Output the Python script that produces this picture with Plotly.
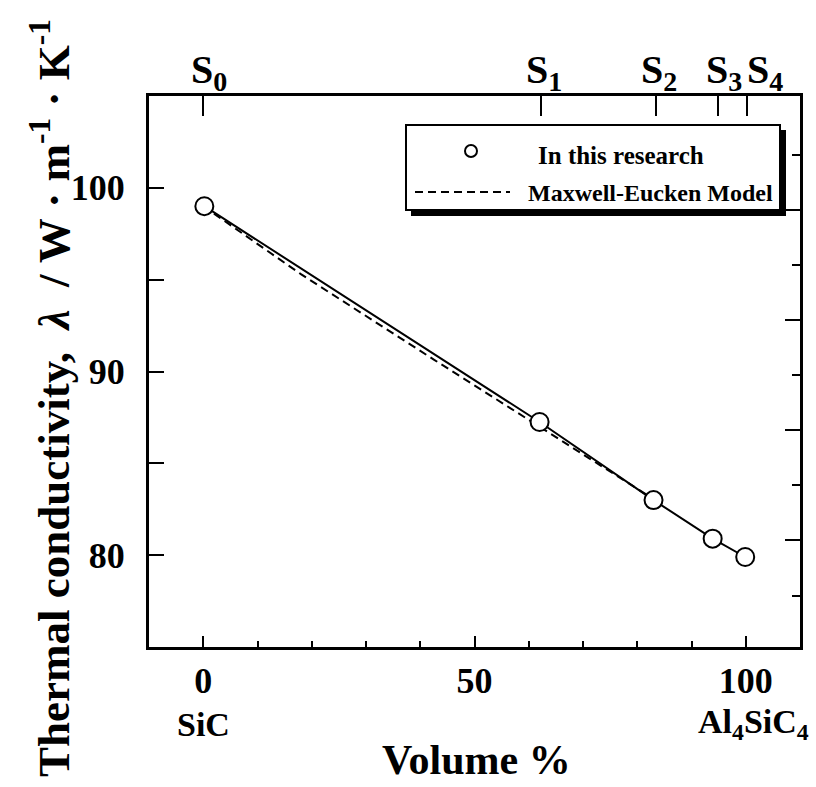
import plotly.graph_objects as go

# Measured thermal conductivity vs Al4SiC4 volume fraction
vol_pct = [0.2, 62.0, 83.0, 93.9, 99.9]
conductivity = [99.0, 87.25, 83.0, 80.9, 79.9]

# Maxwell-Eucken model curve
me_vol = [0.0, 18.0, 42.5, 60.0, 83.0]
me_cond = [99.0, 95.3, 90.65, 87.35, 83.05]

# Sample positions on the top axis
sample_pos = [0.0, 62.3, 83.5, 94.8, 100.2]
sample_names = ["S<sub>0</sub>", "S<sub>1</sub>", "S<sub>2</sub>", "S<sub>3</sub>", "S<sub>4</sub>"]

# Bottom axis labels
x_ticks = [0, 50, 100]
x_ticktext = ["0", "50", "100"]
end_members = ["SiC", "Al<sub>4</sub>SiC<sub>4</sub>"]
end_member_pos = [0, 100]

# Left axis labels
y_ticks = [80, 90, 100]
y_ticktext = ["80", "90", "100"]
y_minor = [85, 95]

# Right-hand tick marks
right_major = [80.8, 86.8, 92.8, 98.8]
right_minor = [77.8, 83.8, 89.8, 95.8, 101.8]

X_RANGE = [-10, 110]
Y_RANGE = [75, 105]

W, H = 816, 787
ML, MR, MT, MB = 149, 16, 96, 140
PW, PH = W - ML - MR, H - MT - MB

FONT = "Liberation Serif"


def px(xpix):
    return (xpix - ML) / PW


def py(ypix):
    return (H - MB - ypix) / PH


fig = go.Figure()

fig.add_trace(go.Scatter(
    x=me_vol, y=me_cond, mode="lines",
    line=dict(color="black", width=2, dash="8px,5px"),
    showlegend=False, hoverinfo="skip",
))

fig.add_trace(go.Scatter(
    x=vol_pct, y=conductivity, mode="lines+markers",
    line=dict(color="black", width=2),
    marker=dict(symbol="circle", size=18, color="white",
                line=dict(color="black", width=2)),
    showlegend=False,
))

# invisible trace to carry the top and right axes
fig.add_trace(go.Scatter(x=[None], y=[None], xaxis="x2", yaxis="y2",
                         showlegend=False, hoverinfo="skip"))

axis_font = dict(family=FONT, size=36, color="black", weight="bold")

fig.update_layout(
    width=W, height=H,
    margin=dict(l=ML, r=MR, t=MT, b=MB, pad=0),
    paper_bgcolor="white", plot_bgcolor="white",
    showlegend=False,
    xaxis=dict(
        range=X_RANGE, showgrid=False, zeroline=False,
        showline=True, linecolor="black", linewidth=3,
        tickmode="array", tickvals=x_ticks, ticktext=x_ticktext,
        ticks="inside", ticklen=11, tickwidth=2, tickcolor="black",
        tickfont=axis_font, ticklabelstandoff=0,
        minor=dict(dtick=10, tick0=0, ticks="inside", ticklen=6,
                   tickwidth=2, tickcolor="black", showgrid=False),
    ),
    xaxis2=dict(
        range=X_RANGE, overlaying="x", side="top", anchor="y",
        showgrid=False, zeroline=False,
        showline=True, linecolor="black", linewidth=3,
        tickmode="array", tickvals=sample_pos, showticklabels=False,
        ticks="inside", ticklen=20, tickwidth=2, tickcolor="black",
    ),
    yaxis=dict(
        range=Y_RANGE, showgrid=False, zeroline=False,
        showline=True, linecolor="black", linewidth=3,
        tickmode="array", tickvals=y_ticks, ticktext=y_ticktext,
        ticks="inside", ticklen=15, tickwidth=2, tickcolor="black",
        tickfont=axis_font, ticklabelstandoff=14,
        minor=dict(tickmode="array", tickvals=y_minor, ticks="inside",
                   ticklen=15, tickwidth=2, tickcolor="black", showgrid=False),
    ),
    yaxis2=dict(
        range=Y_RANGE, overlaying="y", side="right", anchor="x",
        showgrid=False, zeroline=False,
        showline=True, linecolor="black", linewidth=3,
        tickmode="array", tickvals=right_major, showticklabels=False,
        ticks="inside", ticklen=15, tickwidth=2, tickcolor="black",
        minor=dict(tickmode="array", tickvals=right_minor, ticks="inside",
                   ticklen=8, tickwidth=2, tickcolor="black", showgrid=False),
    ),
)

annotations = []

# sample labels along the top
label_nudge = [6, 3, 3, 6, 18]
for pos, name, dx in zip(sample_pos, sample_names, label_nudge):
    annotations.append(dict(
        x=pos, xref="x", y=py(72), yref="paper", text=name, showarrow=False,
        xanchor="center", yanchor="middle", xshift=dx,
        font=dict(family=FONT, size=40, color="black", weight="bold"),
    ))

# end-member names under the bottom tick labels
for pos, name in zip(end_member_pos, end_members):
    annotations.append(dict(
        x=pos, xref="x", y=py(724), yref="paper", text=name, showarrow=False,
        xanchor="center", yanchor="middle", xshift=(0 if pos == 0 else 8),
        font=dict(family=FONT, size=34, color="black", weight="bold"),
    ))

# axis titles
annotations.append(dict(
    x=px(476), y=py(760), xref="paper", yref="paper", text="Volume %",
    showarrow=False, xanchor="center", yanchor="middle",
    font=dict(family=FONT, size=42, color="black", weight="bold"),
))
annotations.append(dict(
    x=px(50), y=py(398), xref="paper", yref="paper",
    text="Thermal conductivity,  <i>λ</i>  / W · m<sup>-1</sup> · K<sup>-1</sup>",
    textangle=-90, showarrow=False, xanchor="center", yanchor="middle",
    font=dict(family=FONT, size=45, color="black", weight="bold"),
))

# legend entries
annotations.append(dict(
    x=px(621), y=py(155), xref="paper", yref="paper", text="In this research",
    showarrow=False, xanchor="center", yanchor="middle",
    font=dict(family=FONT, size=25, color="black", weight="bold"),
))
annotations.append(dict(
    x=px(526), y=py(193), xref="paper", yref="paper", text="Maxwell-Eucken Model",
    showarrow=False, xanchor="left", yanchor="middle",
    font=dict(family=FONT, size=24, color="black", weight="bold"),
))

shapes = [
    # legend drop shadow and box
    dict(type="rect", xref="paper", yref="paper",
         x0=px(411), x1=px(786), y0=py(130), y1=py(216),
         fillcolor="black", line=dict(width=0), layer="above"),
    dict(type="rect", xref="paper", yref="paper",
         x0=px(406), x1=px(780), y0=py(125), y1=py(210),
         fillcolor="white", line=dict(color="black", width=2), layer="above"),
    # legend symbols
    dict(type="circle", xref="paper", yref="paper",
         x0=px(465), x1=px(477), y0=py(145), y1=py(157),
         fillcolor="white", line=dict(color="black", width=2), layer="above"),
    dict(type="line", xref="paper", yref="paper",
         x0=px(415), x1=px(510), y0=py(192), y1=py(192),
         line=dict(color="black", width=2, dash="8px,5px"), layer="above"),
]

fig.update_layout(annotations=annotations, shapes=shapes)

fig.write_html("out.html")
